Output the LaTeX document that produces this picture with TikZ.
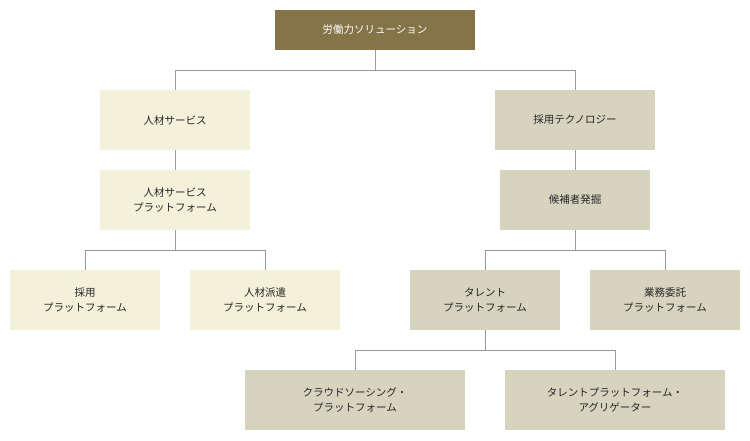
\documentclass[tikz,border=0pt]{standalone}
\usepackage{fontspec}
\setmainfont{Noto Sans CJK JP}
\definecolor{topcol}{HTML}{857448}
\definecolor{leftcol}{HTML}{F4F1DA}
\definecolor{rightcol}{HTML}{D6D3BE}
\definecolor{linecol}{HTML}{9A9A9A}
\tikzset{
  box/.style={minimum height=60pt, align=center, inner sep=0pt,
    font=\fontsize{10.5}{15}\selectfont, text=black!85},
  leftbox/.style={box, fill=leftcol},
  rightbox/.style={box, fill=rightcol},
  link/.style={draw=linecol, line width=0.8pt}
}
\begin{document}
\begin{tikzpicture}[x=1pt, y=-1pt]
    \useasboundingbox (0,0) rectangle (750,440);

    \node[box, fill=topcol, text=white, minimum width=200pt, minimum height=40pt] (sol) at (375, 30) {労働力ソリューション};

    \node[leftbox, minimum width=150pt] (hr)   at (175, 120) {人材サービス};
    \node[leftbox, minimum width=150pt] (hrp)  at (175, 200) {人材サービス\\プラットフォーム};
    \node[leftbox, minimum width=150pt] (rec)  at ( 85, 300) {採用\\プラットフォーム};
    \node[leftbox, minimum width=150pt] (disp) at (265, 300) {人材派遣\\プラットフォーム};

    \node[rightbox, minimum width=160pt] (tech)  at (575, 120) {採用テクノロジー};
    \node[rightbox, minimum width=150pt] (cand)  at (575, 200) {候補者発掘};
    \node[rightbox, minimum width=150pt] (tal)   at (485, 300) {タレント\\プラットフォーム};
    \node[rightbox, minimum width=150pt] (outs)  at (665, 300) {業務委託\\プラットフォーム};
    \node[rightbox, minimum width=220pt] (crowd) at (355, 400) {クラウドソーシング・\\プラットフォーム};
    \node[rightbox, minimum width=220pt] (agg)   at (615, 400) {タレントプラットフォーム・\\アグリゲーター};

    % connectors
    \draw[link] (sol.south) -- ++(0,20) -| (hr.north);
    \draw[link] (sol.south) -- ++(0,20) -| (tech.north);
    \draw[link] (hr) -- (hrp);
    \draw[link] (tech) -- (cand);
    \draw[link] (hrp.south) -- ++(0,20) -| (rec.north);
    \draw[link] (hrp.south) -- ++(0,20) -| (disp.north);
    \draw[link] (cand.south) -- ++(0,20) -| (tal.north);
    \draw[link] (cand.south) -- ++(0,20) -| (outs.north);
    \draw[link] (tal.south) -- ++(0,20) -| (crowd.north);
    \draw[link] (tal.south) -- ++(0,20) -| (agg.north);
\end{tikzpicture}
\end{document}
